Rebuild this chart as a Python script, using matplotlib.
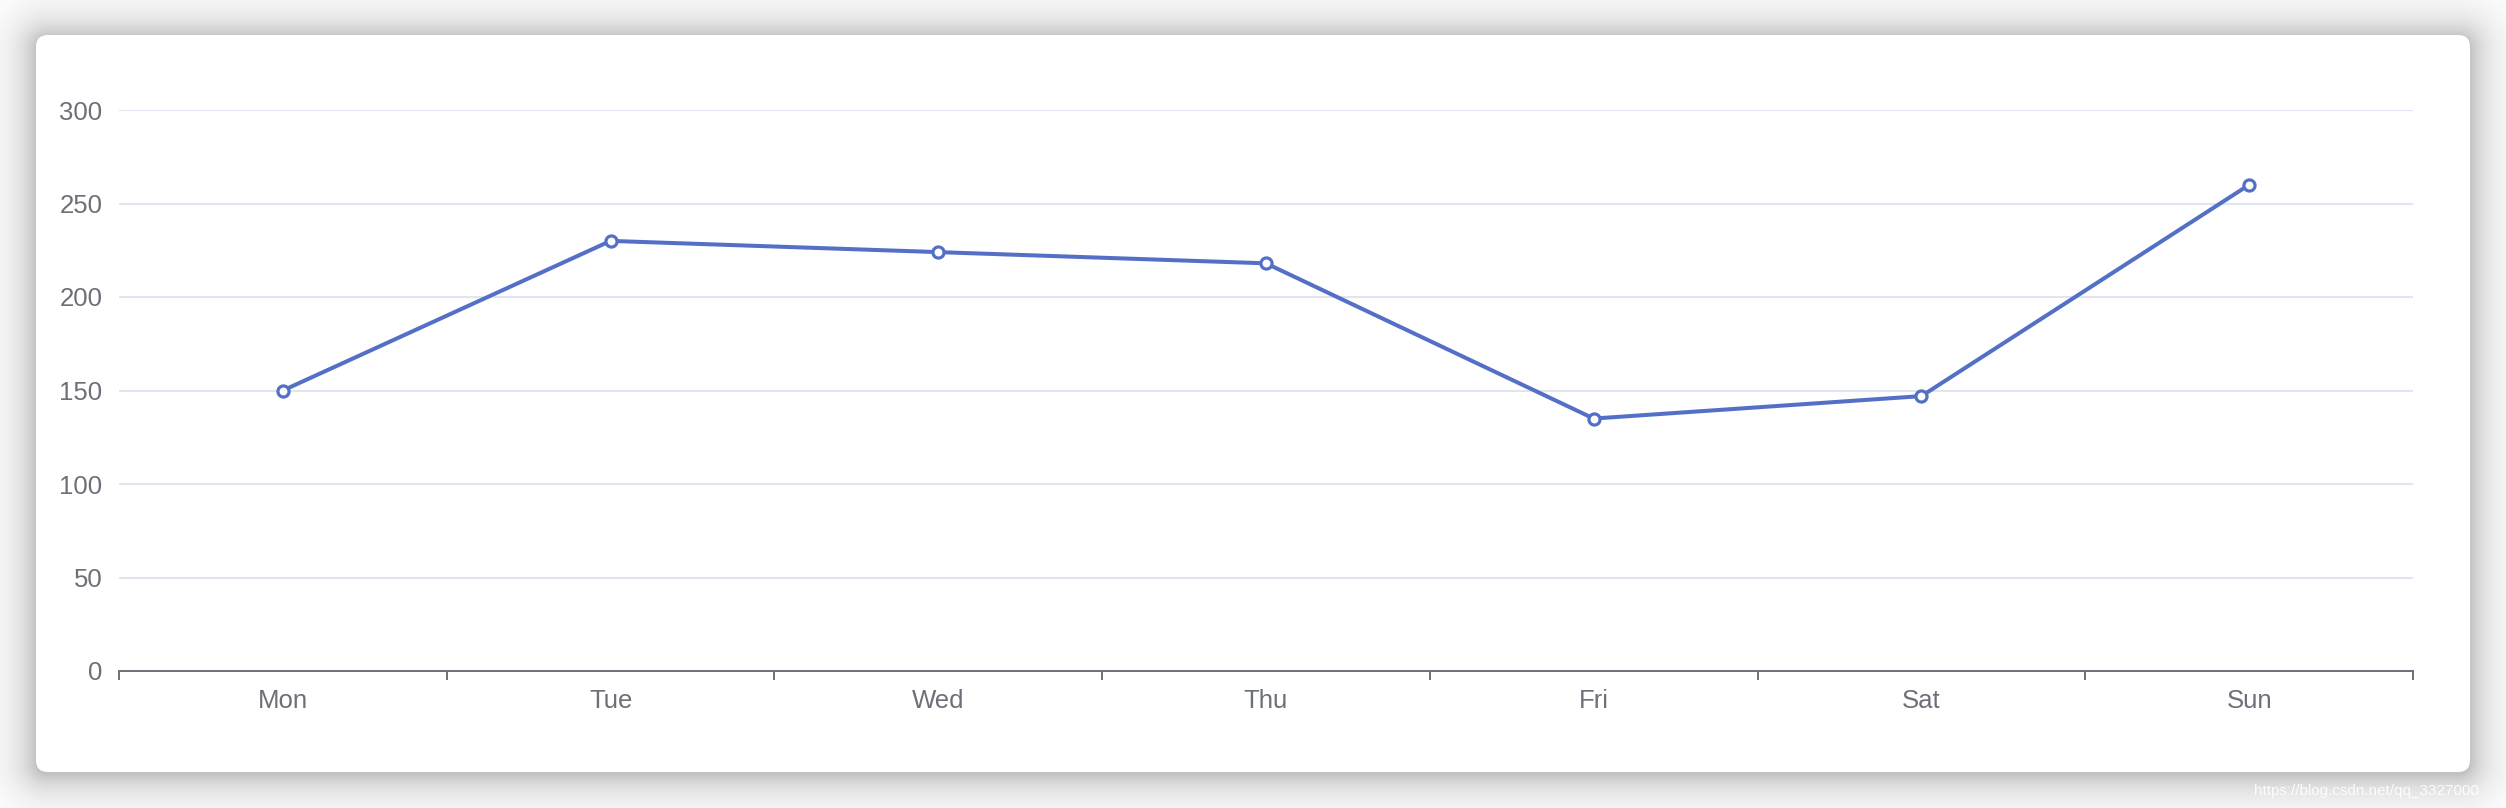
import matplotlib.pyplot as plt
import numpy as np
from matplotlib.patches import FancyBboxPatch

days = ['Mon', 'Tue', 'Wed', 'Thu', 'Fri', 'Sat', 'Sun']
values = [150, 230, 224, 218, 135, 147, 260]
y_ticks = [0, 50, 100, 150, 200, 250, 300]

W, H = 2506, 808
plt.rcParams['font.family'] = ['Liberation Sans', 'DejaVu Sans']

fig = plt.figure(figsize=(W / 100, H / 100), dpi=100)

# background + card shadow (pixel coordinates)
bg = fig.add_axes([0, 0, 1, 1])
bg.set_xlim(0, W)
bg.set_ylim(H, 0)
bg.axis('off')
cx0, cy0, cx1, cy1, r = 36, 35, 2470, 772, 12
xx, yy = np.meshgrid(np.arange(W) + 0.5, np.arange(H) + 0.5)
yy = yy - 2  # shadow slightly lower
dx = np.maximum(np.maximum(cx0 + r - xx, 0), xx - (cx1 - r))
dy = np.maximum(np.maximum(cy0 + r - yy, 0), yy - (cy1 - r))
d = np.clip(np.sqrt(dx ** 2 + dy ** 2) - r, 0, None)
shade = 1 - 0.24 * np.exp(-d / 21)
bg.imshow(shade, cmap='gray', vmin=0, vmax=1, extent=(0, W, H, 0),
          interpolation='bilinear', aspect='auto')
bg.add_patch(FancyBboxPatch((cx0 + r, cy0 + r), cx1 - cx0 - 2 * r, cy1 - cy0 - 2 * r,
                            boxstyle='round,pad=%d' % r, fc='white', ec='none'))
bg.text(2254, 795, 'https://blog.csdn.net/qq_3327000', color='white', alpha=0.9,
        fontsize=11, va='baseline', ha='left')

# plot area
left, right, top, bottom = 119, 2413, 110, 671
ax = fig.add_axes([left / W, (H - bottom) / H, (right - left) / W, (bottom - top) / H])
ax.patch.set_alpha(0)
x = np.arange(len(days))
ax.plot(x, values, color='#5470C6', lw=2.9, marker='o', ms=8, mfc='white',
        mec='#5470C6', mew=2.3, zorder=3, clip_on=False)

ax.set_xlim(-0.5, len(days) - 0.5)
ax.set_ylim(0, 300)
ax.set_yticks(y_ticks)
ax.yaxis.grid(True, color='#E0E6F1', lw=1.5)
ax.set_axisbelow(True)
ax.tick_params(axis='y', length=0, pad=12, labelsize=18.5, labelcolor='#6E7079')

ax.set_xticks(np.arange(-0.5, len(days)))
ax.set_xticklabels([])
ax.set_xticks(x, minor=True)
ax.set_xticklabels(days, minor=True)
ax.tick_params(axis='x', which='major', length=6.5, width=1.4, color='#6E7079', direction='out')
ax.tick_params(axis='x', which='minor', length=0, pad=13, labelsize=18.5, labelcolor='#6E7079')

for s in ['top', 'right', 'left']:
    ax.spines[s].set_visible(False)
ax.spines['bottom'].set_color('#6E7079')
ax.spines['bottom'].set_linewidth(1.4)

fig.savefig('out.png', dpi=100)
